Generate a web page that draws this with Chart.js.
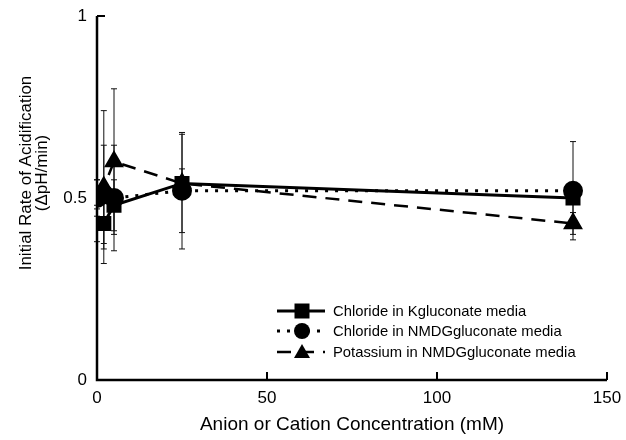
<!DOCTYPE html>
<html>
<head>
<meta charset="utf-8">
<script src="https://cdn.jsdelivr.net/npm/chart.js@4.4.0/dist/chart.umd.min.js"></script>
<style>
  html, body { margin: 0; padding: 0; background: #fff; }
  #wrap { width: 626px; height: 440px; }
</style>
</head>
<body>
<div id="wrap"><canvas id="grafico"></canvas></div>
<script>
// concentrations (mM)
const conc = [0, 2, 5, 25, 140]

const clK = [0.43, 0.43, 0.48, 0.54, 0.50]
const clKErr = [0.05, 0.07, 0.07, 0.135, 0.04]

const clNMDG = [0.50, 0.51, 0.50, 0.52, 0.52]
const clNMDGErr = [0.05, 0.135, 0.145, 0.16, 0.135]

const kNMDG = [0.51, 0.53, 0.60, 0.54, 0.43]
const kNMDGErr = [0.04, 0.21, 0.20, 0.04, 0.03]

const xTicks = [0, 50, 100, 150]
const yTicks = [0, 0.5, 1]

const labels = [
  "Chloride in Kgluconate media",
  "Chloride in NMDGgluconate media",
  "Potassium in NMDGgluconate media",
]
const yTitle = ["Initial Rate of Acidification", "(ΔpH/min)"]

const font = "Liberation Sans, Arial, Helvetica, sans-serif"

function pts(ys) {
  return conc.map((x, i) => ({ x: x, y: ys[i] }))
}

const errs = [clKErr, clNMDGErr, kNMDGErr]

// error bars drawn under the markers
const errorBars = {
  id: "errorBars",
  beforeDatasetsDraw(chart) {
    const ctx = chart.ctx
    const xs = chart.scales.x
    const ys = chart.scales.y
    ctx.save()
    ctx.strokeStyle = "#111"
    ctx.lineWidth = 1
    chart.data.datasets.forEach((ds, d) => {
      ds.data.forEach((p, i) => {
        const e = errs[d][i]
        const px = xs.getPixelForValue(p.x)
        const top = ys.getPixelForValue(p.y + e)
        const bot = ys.getPixelForValue(p.y - e)
        ctx.beginPath()
        ctx.moveTo(px, top); ctx.lineTo(px, bot)
        ctx.moveTo(px - 3, top); ctx.lineTo(px + 3, top)
        ctx.moveTo(px - 3, bot); ctx.lineTo(px + 3, bot)
        ctx.stroke()
      })
    })
    ctx.restore()
  },
}

// axis lines, inward ticks, y title and the legend box
const frame = {
  id: "frame",
  afterDraw(chart) {
    const ctx = chart.ctx
    const a = chart.chartArea
    const xs = chart.scales.x
    const ys = chart.scales.y
    ctx.save()
    ctx.strokeStyle = "#000"
    ctx.lineWidth = 2.5
    ctx.beginPath()
    ctx.moveTo(a.left, a.top); ctx.lineTo(a.left, a.bottom); ctx.lineTo(a.right, a.bottom)
    ctx.stroke()
    ctx.lineWidth = 2
    ctx.beginPath()
    yTicks.forEach(v => {
      if (v === 0) return
      const py = ys.getPixelForValue(v)
      ctx.moveTo(a.left, py); ctx.lineTo(a.left + 8, py)
    })
    xTicks.forEach(v => {
      if (v === 0) return
      const px = xs.getPixelForValue(v)
      ctx.moveTo(px, a.bottom); ctx.lineTo(px, a.bottom - 8)
    })
    ctx.stroke()

    // y title, sits a bit above the middle like the original
    ctx.save()
    ctx.translate(0, 173)
    ctx.rotate(-Math.PI / 2)
    ctx.fillStyle = "#000"
    ctx.font = "17px " + font
    ctx.textAlign = "center"
    ctx.textBaseline = "middle"
    ctx.fillText(yTitle[0], 0, 26)
    ctx.fillText(yTitle[1], 0, 42)
    ctx.restore()

    // legend
    const rows = [311, 331, 352]
    chart.data.datasets.forEach((ds, i) => {
      const y = rows[i]
      ctx.strokeStyle = "#000"
      ctx.lineWidth = ds.borderWidth
      ctx.setLineDash(ds.borderDash || [])
      ctx.beginPath()
      ctx.moveTo(277, y); ctx.lineTo(325, y)
      ctx.stroke()
      ctx.setLineDash([])
      ctx.fillStyle = "#000"
      drawMarker(ctx, ds.pointStyle, 302, y)
      ctx.font = "14.8px " + font
      ctx.textBaseline = "middle"
      ctx.textAlign = "left"
      ctx.fillText(labels[i], 333, y + 1)
    })
    ctx.restore()
  },
}

function drawMarker(ctx, style, x, y) {
  ctx.beginPath()
  if (style === "rect") {
    ctx.rect(x - 7.5, y - 7.5, 15, 15)
  } else if (style === "circle") {
    ctx.arc(x, y, 8, 0, Math.PI * 2)
  } else {
    ctx.moveTo(x, y - 8); ctx.lineTo(x + 8, y + 6); ctx.lineTo(x - 8, y + 6); ctx.closePath()
  }
  ctx.fill()
}

new Chart(document.getElementById("grafico"), {
  type: "line",
  data: {
    datasets: [
      {
        label: labels[0],
        data: pts(clK),
        borderColor: "#000",
        backgroundColor: "#000",
        borderWidth: 3,
        pointStyle: "rect",
        pointRadius: 8.5,
        pointHoverRadius: 8.5,
      },
      {
        label: labels[1],
        data: pts(clNMDG),
        borderColor: "#000",
        backgroundColor: "#000",
        borderWidth: 3,
        borderDash: [3, 7],
        pointStyle: "circle",
        pointRadius: 8.5,
        pointHoverRadius: 8.5,
      },
      {
        label: labels[2],
        data: pts(kNMDG),
        borderColor: "#000",
        backgroundColor: "#000",
        borderWidth: 2.5,
        borderDash: [14, 9],
        pointStyle: "triangle",
        pointRadius: 9,
        pointHoverRadius: 9,
      },
    ],
  },
  options: {
    responsive: true,
    maintainAspectRatio: false,
    animation: false,
    events: [],
    layout: { padding: { left: 0, right: 19, top: 16, bottom: 0 } },
    plugins: {
      legend: { display: false },
      tooltip: { enabled: false },
    },
    scales: {
      x: {
        type: "linear",
        min: 0,
        max: 150,
        afterFit(s) { s.height = 60 },
        afterBuildTicks(s) { s.ticks = xTicks.map(v => ({ value: v })) },
        grid: { display: false },
        border: { display: false },
        ticks: { color: "#000", font: { family: font, size: 17 }, padding: 0 },
        title: {
          display: true,
          text: "Anion or Cation Concentration (mM)",
          color: "#000",
          font: { family: font, size: 19 },
          padding: { top: 4, bottom: 4 },
        },
      },
      y: {
        min: 0,
        max: 1,
        afterFit(s) { s.width = 97 },
        afterBuildTicks(s) { s.ticks = yTicks.map(v => ({ value: v })) },
        grid: { display: false },
        border: { display: false },
        ticks: {
          color: "#000",
          font: { family: font, size: 17 },
          padding: 2,
          callback: v => String(v),
        },
        title: { display: false },
      },
    },
  },
  plugins: [errorBars, frame],
})
</script>
</body>
</html>
